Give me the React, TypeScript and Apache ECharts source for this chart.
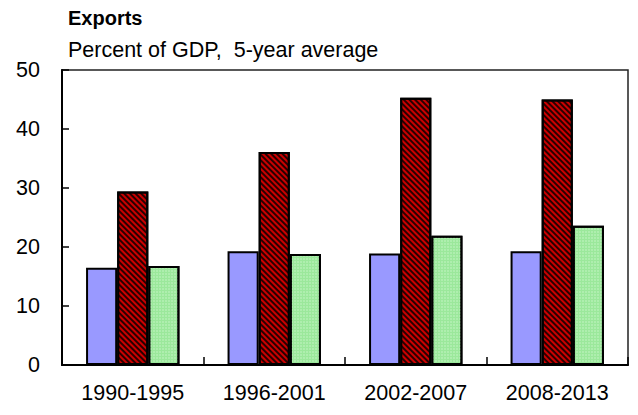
import React, { useEffect, useRef } from "react";
import * as echarts from "echarts";

const periods = ["1990-1995", "1996-2001", "2002-2007", "2008-2013"];
const seriesA = [16.5, 19.3, 18.9, 19.3];
const seriesB = [29.4, 36.1, 45.3, 45.0];
const seriesC = [16.8, 18.8, 21.9, 23.6];
const yTicks = [0, 10, 20, 30, 40, 50];

const FONT = "Liberation Sans, Arial, sans-serif";

export default function App() {
  const ref = useRef<HTMLDivElement>(null);

  useEffect(() => {
    if (!ref.current) return;
    const chart = echarts.init(ref.current, null, { renderer: "svg" });
    const border = { borderColor: "#000", borderWidth: 2 };
    chart.setOption({
      animation: false,
      backgroundColor: "#fff",
      title: [
        {
          text: "Exports",
          left: 68,
          top: 8,
          padding: 0,
          textStyle: { fontFamily: FONT, fontSize: 20, fontWeight: "bold", color: "#000" },
        },
        {
          text: "Percent of GDP,  5-year average",
          left: 68,
          top: 39,
          padding: 0,
          textStyle: { fontFamily: FONT, fontSize: 21.5, fontWeight: "normal", color: "#000" },
        },
      ],
      grid: {
        left: 62,
        right: 10,
        top: 70,
        bottom: 50,
        show: true,
        borderColor: "#222",
        borderWidth: 1.5,
        containLabel: false,
      },
      xAxis: {
        type: "category",
        data: periods,
        axisLine: { lineStyle: { color: "#000", width: 2 } },
        axisTick: { show: true, inside: true, length: 8, lineStyle: { color: "#000", width: 1.5 } },
        axisLabel: { fontFamily: FONT, fontSize: 21.5, color: "#000", margin: 17 },
      },
      yAxis: {
        type: "value",
        min: yTicks[0],
        max: yTicks[yTicks.length - 1],
        interval: 10,
        axisLine: { show: true, lineStyle: { color: "#000", width: 2 } },
        axisTick: { show: true, inside: true, length: 7, lineStyle: { color: "#000", width: 1.5 } },
        splitLine: { show: false },
        axisLabel: { fontFamily: FONT, fontSize: 21.5, color: "#000", margin: 22 },
      },
      series: [
        {
          type: "bar",
          data: seriesA,
          barWidth: "22%",
          barGap: "0%",
          itemStyle: { color: "#9999ff", ...border },
        },
        {
          type: "bar",
          data: seriesB,
          barWidth: "22%",
          barGap: "0%",
          itemStyle: {
            color: "#cc0000",
            ...border,
            decal: {
              symbol: "rect",
              symbolSize: 1,
              color: "rgba(0,0,0,0.8)",
              dashArrayX: [1, 0],
              dashArrayY: [1.3, 1.6],
              rotation: Math.PI / 4,
            },
          },
        },
        {
          type: "bar",
          data: seriesC,
          barWidth: "22%",
          barGap: "0%",
          itemStyle: {
            color: "#9be89b",
            ...border,
            decal: {
              symbol: "rect",
              symbolSize: 0.6,
              color: "rgba(235,255,235,0.8)",
              dashArrayX: [2, 1],
              dashArrayY: [2, 1],
              rotation: 0,
            },
          },
        },
      ],
    });
    return () => chart.dispose();
  }, []);

  return <div ref={ref} style={{ width: 638, height: 415, position: "absolute", left: 0, top: 0 }} />;
}
